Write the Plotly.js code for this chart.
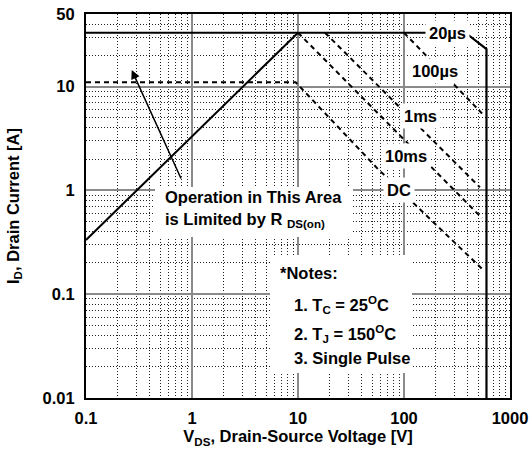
<!DOCTYPE html>
<html>
<head>
<meta charset="utf-8">
<script src="https://cdn.plot.ly/plotly-3.0.1.min.js"></script>
<style>html,body{margin:0;padding:0;background:#fff;}</style>
</head>
<body>
<div id="chart" style="width:531px;height:452px;"></div>
<script>
// ---- data (V in volts, I in amperes) ----
var rdsV = [0.1, 10];
var rdsI = [0.333, 33];
var us20V = [0.1, 380, 600, 600];
var us20I = [33, 33, 23, 0.01];
var us100V = [100, 545];
var us100I = [33, 5.5];
var ms1V = [18, 520];
var ms1I = [33, 1.07];
var ms10V = [10, 545];
var ms10I = [33, 0.54];
var dcV = [0.1, 9.5, 57, 540];
var dcI = [11, 11, 1.6, 0.177];

var xTickVals = [0.1, 1, 10, 100, 1000];
var xTickText = ['0.1', '1', '10', '100', '1000'];
var yTickVals = [0.01, 0.1, 1, 10, 50];
var yTickText = ['0.01', '0.1', '1', '10', '50'];

function minorTicks(lo, hi) {
  var out = [];
  for (var e = lo; e < hi; e++) {
    for (var m = 2; m <= 9; m++) out.push(m * Math.pow(10, e));
  }
  return out;
}
var xMinor = minorTicks(-1, 3);
var yMinor = minorTicks(-2, 2).filter(function (v) { return v < 50; });

var FONT = '"Liberation Sans", Arial, Helvetica, sans-serif';
var dashPat = '5px,4px';

function line(x, y, dash, w) {
  return {
    x: x, y: y, type: 'scatter', mode: 'lines', hoverinfo: 'skip', showlegend: false,
    line: { color: '#000', width: w || 2, dash: dash || 'solid' }
  };
}

var traces = [
  line(rdsV, rdsI, 'solid', 2),
  line(us20V, us20I, 'solid', 2.2),
  line(us100V, us100I, dashPat, 2),
  line(ms1V, ms1I, dashPat, 2),
  line(ms10V, ms10I, dashPat, 2),
  line(dcV, dcI, dashPat, 2)
];

// plot area in pixels (for placing text)
var L = 86, R = 510, T = 14, B = 398;
function px(x) { return (x - L) / (R - L); }
function py(y) { return (B - y) / (B - T); }

var tf = { family: FONT, size: 16.5, color: '#000', weight: 'bold' };

function label(text, cx, cy) {
  return { xref: 'paper', yref: 'paper', x: px(cx), y: py(cy), text: text, showarrow: false,
    xanchor: 'center', yanchor: 'middle', bgcolor: '#fff', borderpad: 3, font: tf };
}
function leftText(text, lx, cy) {
  return { xref: 'paper', yref: 'paper', x: px(lx), y: py(cy), text: text, showarrow: false,
    xanchor: 'left', yanchor: 'middle', font: tf };
}
function box(x0, x1, y0, y1) {
  return { type: 'rect', xref: 'paper', yref: 'paper', x0: px(x0), x1: px(x1), y0: py(y1), y1: py(y0),
    fillcolor: '#fff', line: { width: 0 }, layer: 'above' };
}

var shapes = [
  box(155, 353, 187, 237),
  box(270, 412, 255, 373)
];

var annotations = [
  label('20\u00B5s', 447.5, 33),
  label('100\u00B5s', 434.7, 71),
  label('1ms', 420, 116),
  label('10ms', 405.8, 156),
  label('DC', 399, 189.5),
  leftText('Operation in This Area', 162.7, 197),
  leftText('is Limited by R <sub>DS(on)</sub>', 162.7, 220),
  leftText('*Notes:', 277.7, 273),
  leftText('1. T<sub>C</sub> = 25<sup>O</sup>C', 292.3, 305),
  leftText('2. T<sub>J</sub> = 150<sup>O</sup>C', 292.3, 334),
  leftText('3. Single Pulse', 292.3, 358),
  { xref: 'paper', yref: 'paper', x: px(131.7), y: py(70), text: '', showarrow: true,
    ax: 50, ay: 110, arrowhead: 2, arrowsize: 1.2, arrowwidth: 1.5, arrowcolor: '#000', standoff: 0,
    font: tf }
];

var axisCommon = {
  type: 'log', showline: true, linecolor: '#000', linewidth: 2, mirror: true,
  ticks: '', zeroline: false, tickmode: 'array', tickfont: tf,
  showgrid: true, gridcolor: '#8a8a8a', gridwidth: 2
};

var layout = {
  width: 531, height: 452,
  margin: { l: L, r: 531 - R, t: T, b: 452 - B, pad: 0 },
  paper_bgcolor: '#fff', plot_bgcolor: '#fff',
  font: { family: FONT, color: '#000' },
  xaxis: Object.assign({}, axisCommon, {
    range: [-1, 3], tickvals: xTickVals, ticktext: xTickText, ticklabelstandoff: 4,
    minor: { tickmode: 'array', tickvals: xMinor, showgrid: true, gridcolor: '#222', gridwidth: 1, griddash: '1px,2px', ticks: '' },
    title: { text: 'V<sub>DS</sub>, Drain-Source Voltage [V]', font: tf, standoff: 5 }
  }),
  yaxis: Object.assign({}, axisCommon, {
    range: [-2, Math.log10(50)], tickvals: yTickVals, ticktext: yTickText, ticklabelstandoff: 6,
    minor: { tickmode: 'array', tickvals: yMinor, showgrid: true, gridcolor: '#222', gridwidth: 1, griddash: '1px,2px', ticks: '' },
    title: { text: 'I<sub>D</sub>, Drain Current [A]', font: tf, standoff: 19 }
  }),
  shapes: shapes,
  annotations: annotations
};

Plotly.newPlot('chart', traces, layout, { staticPlot: true, displayModeBar: false });
</script>
</body>
</html>
